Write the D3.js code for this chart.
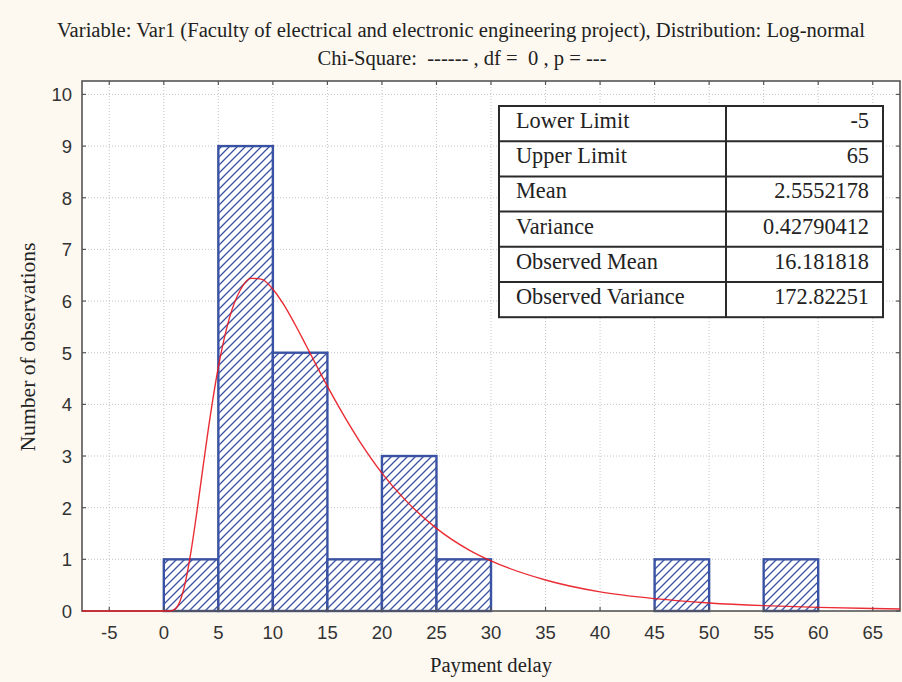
<!DOCTYPE html>
<html>
<head>
<meta charset="utf-8">
<script src="https://cdn.jsdelivr.net/npm/d3@7"></script>
<style>
  html, body { margin: 0; padding: 0; background: #fdf9f1; }
  svg { display: block; }
</style>
</head>
<body>
<svg id="chart" width="902" height="682"></svg>
<script>
// histogram bins (lower edge) and counts
var binStarts = [-5, 0, 5, 10, 15, 20, 25, 30, 35, 40, 45, 50, 55, 60];
var binCounts = [0, 1, 9, 5, 1, 3, 1, 0, 0, 0, 1, 0, 1, 0];
var binWidth = 5;

// fitted log-normal curve
var curveX = [-7.5, 0, 0.5, 1, 1.5, 2, 2.5, 3, 3.5, 4, 5, 6, 7, 8, 9, 10, 11, 12, 13, 14, 16, 18, 20, 22, 25, 28, 30, 35, 40, 45, 50, 55, 60, 65, 67.5];
var curveY = [0, 0, 0.001, 0.033, 0.20, 0.58, 1.16, 1.87, 2.64, 3.40, 4.72, 5.66, 6.21, 6.44, 6.42, 6.23, 5.93, 5.56, 5.16, 4.75, 3.97, 3.27, 2.67, 2.18, 1.60, 1.18, 0.97, 0.60, 0.37, 0.24, 0.156, 0.104, 0.070, 0.048, 0.040];

var xTicks = [-5, 0, 5, 10, 15, 20, 25, 30, 35, 40, 45, 50, 55, 60, 65];
var yTicks = [0, 1, 2, 3, 4, 5, 6, 7, 8, 9, 10];

var tableLabels = ["Lower Limit", "Upper Limit", "Mean", "Variance", "Observed Mean", "Observed Variance"];
var tableValues = ["-5", "65", "2.5552178", "0.42790412", "16.181818", "172.82251"];

var titleLine1 = "Variable: Var1 (Faculty of electrical and electronic engineering project), Distribution: Log-normal";
var titleLine2 = "Chi-Square:  ------ , df =  0 , p = ---";
var xLabel = "Payment delay";
var yLabel = "Number of observations";

var plot = {left: 82, right: 900, top: 81, bottom: 611};
var blue = "#3a52a3";
var axisColor = "#555555";
var serif = "Liberation Serif, Times New Roman, serif";
var sans = "Liberation Sans, Arial, sans-serif";

var svg = d3.select("#chart");

var x = d3.scaleLinear().domain([-7.5, 67.5]).range([plot.left, plot.right]);
var y = d3.scaleLinear().domain([0, 10.26]).range([plot.bottom, plot.top]);

// hatch pattern for the bars
var defs = svg.append("defs");
var pat = defs.append("pattern")
  .attr("id", "hatch")
  .attr("patternUnits", "userSpaceOnUse")
  .attr("width", 8).attr("height", 8);
pat.append("rect").attr("width", 8).attr("height", 8).attr("fill", "#ffffff");
pat.append("path")
  .attr("d", "M-2,2 L2,-2 M0,8 L8,0 M6,10 L10,6")
  .attr("stroke", blue).attr("stroke-width", 1.3);

// plot area
svg.append("rect")
  .attr("x", plot.left).attr("y", plot.top)
  .attr("width", plot.right - plot.left).attr("height", plot.bottom - plot.top)
  .attr("fill", "#ffffff");

// grid
svg.append("g").selectAll("line")
  .data(xTicks)
  .enter().append("line")
  .attr("x1", function(d){ return x(d); }).attr("x2", function(d){ return x(d); })
  .attr("y1", plot.top).attr("y2", plot.bottom)
  .attr("stroke", "#c4c4c4").attr("stroke-width", 1)
  .attr("stroke-dasharray", "1,2");
svg.append("g").selectAll("line")
  .data(yTicks.filter(function(d){ return d > 0; }))
  .enter().append("line")
  .attr("x1", plot.left).attr("x2", plot.right)
  .attr("y1", function(d){ return y(d); }).attr("y2", function(d){ return y(d); })
  .attr("stroke", "#c4c4c4").attr("stroke-width", 1)
  .attr("stroke-dasharray", "1,2");

// bars
var bars = binStarts.map(function(s, i){ return {x0: s, x1: s + binWidth, n: binCounts[i]}; })
  .filter(function(d){ return d.n > 0; });
svg.append("g").selectAll("rect")
  .data(bars)
  .enter().append("rect")
  .attr("x", function(d){ return x(d.x0); })
  .attr("y", function(d){ return y(d.n); })
  .attr("width", function(d){ return x(d.x1) - x(d.x0); })
  .attr("height", function(d){ return y(0) - y(d.n); })
  .attr("fill", "url(#hatch)")
  .attr("stroke", blue).attr("stroke-width", 2.4);

// frame with inward ticks
var frame = svg.append("g");
frame.append("rect")
  .attr("x", plot.left).attr("y", plot.top)
  .attr("width", plot.right - plot.left).attr("height", plot.bottom - plot.top)
  .attr("fill", "none").attr("stroke", axisColor).attr("stroke-width", 1.6);
xTicks.forEach(function(d){
  frame.append("line").attr("x1", x(d)).attr("x2", x(d)).attr("y1", plot.top).attr("y2", plot.top + 4)
    .attr("stroke", axisColor).attr("stroke-width", 1.2);
  frame.append("line").attr("x1", x(d)).attr("x2", x(d)).attr("y1", plot.bottom).attr("y2", plot.bottom - 4)
    .attr("stroke", axisColor).attr("stroke-width", 1.2);
});
yTicks.forEach(function(d){
  frame.append("line").attr("x1", plot.left).attr("x2", plot.left + 4).attr("y1", y(d)).attr("y2", y(d))
    .attr("stroke", axisColor).attr("stroke-width", 1.2);
  frame.append("line").attr("x1", plot.right).attr("x2", plot.right - 4).attr("y1", y(d)).attr("y2", y(d))
    .attr("stroke", axisColor).attr("stroke-width", 1.2);
});

// fitted curve
var line = d3.line()
  .x(function(d){ return x(d[0]); })
  .y(function(d){ return y(d[1]); })
  .curve(d3.curveMonotoneX);
svg.append("path")
  .datum(curveX.map(function(v, i){ return [v, curveY[i]]; }))
  .attr("d", line)
  .attr("fill", "none")
  .attr("stroke", "#e8161f")
  .attr("stroke-width", 1.4)
  .attr("opacity", 0.9);

// tick labels
svg.append("g").selectAll("text")
  .data(xTicks)
  .enter().append("text")
  .attr("x", function(d){ return x(d); })
  .attr("y", 639)
  .attr("text-anchor", "middle")
  .attr("font-family", sans)
  .attr("font-size", 18.5)
  .attr("fill", "#333")
  .text(function(d){ return d; });
svg.append("g").selectAll("text")
  .data(yTicks)
  .enter().append("text")
  .attr("x", 72)
  .attr("y", function(d){ return y(d) + 7; })
  .attr("text-anchor", "end")
  .attr("font-family", sans)
  .attr("font-size", 18.5)
  .attr("fill", "#333")
  .text(function(d){ return d; });

// statistics table
var table = {left: 499, right: 883, top: 106, rowH: 35.2, split: 726};
var tg = svg.append("g");
tg.append("rect")
  .attr("x", table.left).attr("y", table.top)
  .attr("width", table.right - table.left).attr("height", table.rowH * tableLabels.length)
  .attr("fill", "#ffffff").attr("stroke", "#2a2a2a").attr("stroke-width", 2);
tableLabels.forEach(function(lab, i){
  var top = table.top + i * table.rowH;
  if(i > 0){
    tg.append("line").attr("x1", table.left).attr("x2", table.right)
      .attr("y1", top).attr("y2", top)
      .attr("stroke", "#2a2a2a").attr("stroke-width", 2);
  }
  tg.append("text")
    .attr("transform", "translate(516," + (top + 22) + ") scale(0.93,1)")
    .attr("font-family", serif)
    .attr("font-size", 24).attr("fill", "#222")
    .text(lab);
  tg.append("text")
    .attr("transform", "translate(869," + (top + 22) + ") scale(0.93,1)")
    .attr("text-anchor", "end")
    .attr("font-family", serif)
    .attr("font-size", 24).attr("fill", "#222")
    .text(tableValues[i]);
});
tg.append("line").attr("x1", table.split).attr("x2", table.split)
  .attr("y1", table.top).attr("y2", table.top + table.rowH * tableLabels.length)
  .attr("stroke", "#2a2a2a").attr("stroke-width", 2);

// titles
svg.append("text")
  .attr("x", 461).attr("y", 37)
  .attr("text-anchor", "middle")
  .attr("font-family", serif)
  .attr("font-size", 20).attr("fill", "#222")
  .attr("textLength", 808).attr("lengthAdjust", "spacingAndGlyphs")
  .text(titleLine1);
svg.append("text")
  .attr("x", 462).attr("y", 65)
  .attr("text-anchor", "middle")
  .attr("font-family", serif)
  .attr("font-size", 20).attr("fill", "#222")
  .style("white-space", "pre")
  .attr("textLength", 289).attr("lengthAdjust", "spacingAndGlyphs")
  .text(titleLine2);

// axis titles
svg.append("text")
  .attr("x", 491).attr("y", 672)
  .attr("text-anchor", "middle")
  .attr("font-family", serif)
  .attr("font-size", 20.5).attr("fill", "#222")
  .attr("textLength", 122).attr("lengthAdjust", "spacingAndGlyphs")
  .text(xLabel);
svg.append("text")
  .attr("transform", "translate(35,347) rotate(-90)")
  .attr("text-anchor", "middle")
  .attr("font-family", serif)
  .attr("font-size", 20.5).attr("fill", "#222")
  .attr("textLength", 209).attr("lengthAdjust", "spacingAndGlyphs")
  .text(yLabel);
</script>
</body>
</html>
